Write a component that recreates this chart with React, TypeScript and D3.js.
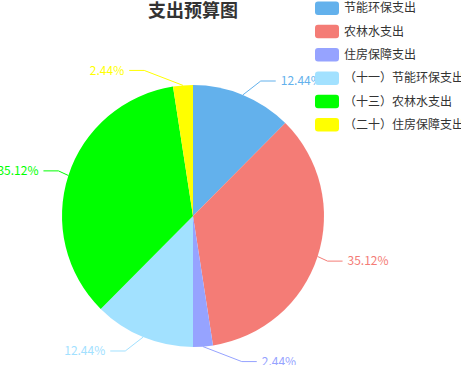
import React from 'react';
import * as d3 from 'd3';

const categories = ['节能环保支出', '农林水支出', '住房保障支出', '（十一）节能环保支出', '（十三）农林水支出', '（二十）住房保障支出'];
const values = [12.44, 35.12, 2.44, 12.44, 35.12, 2.44];
const colors = ['#63b1ec', '#f47c76', '#96a3ff', '#a2e1ff', '#00ff00', '#ffff00'];
const titleText = '支出预算图';

const W = 461, H = 365;
const cx = 193, cy = 216, R = 131;
const len = 15, len2 = 15, dist = 5;
const FONT = "'Noto Sans CJK SC', 'Noto Sans', sans-serif";

type Item = { i: number; x1: number; y1: number; x: number; y: number; side: number };

export default function App() {
  const pie = d3.pie<number>().sort(null).value((d) => d);
  const arcs = pie(values);
  const arcGen = d3.arc<d3.PieArcDatum<number>>().innerRadius(0).outerRadius(R);
  const total = d3.sum(values);

  const items: Item[] = arcs.map((a, i) => {
    const mid = (a.startAngle + a.endAngle) / 2;
    const dx = Math.sin(mid), dy = -Math.cos(mid);
    const x1 = cx + R * dx, y1 = cy + R * dy;
    return { i, x1, y1, x: x1 + len * dx, y: y1 + len * dy, side: dx < 0 ? -1 : 1 };
  });

  const changeX = (list: Item[], isDown: boolean, dir: number) => {
    let last = isDown ? Number.MAX_VALUE : 0;
    for (const it of list) {
      const deltaY = Math.abs(it.y - cy);
      let deltaX = deltaY < R + len
        ? Math.sqrt((R + len + len2) ** 2 - deltaY * deltaY)
        : Math.abs(it.x - cx);
      if (isDown && deltaX >= last) deltaX = last - 10;
      if (!isDown && deltaX <= last) deltaX = last + 10;
      it.x = cx + deltaX * dir;
      last = deltaX;
    }
  };
  [-1, 1].forEach((s) => {
    const list = items.filter((it) => it.side === s).sort((a, b) => a.y - b.y);
    changeX(list.filter((it) => it.y < cy), false, s);
    changeX(list.filter((it) => it.y >= cy), true, s);
  });

  const legendX = 315, legendY0 = 1.5, legendStep = 23.3;

  return (
    <svg width={W} height={H} style={{ position: 'absolute', left: 0, top: 0, fontFamily: FONT }}>
      <rect width={W} height={H} fill="#fff" />
      <text x={cx} y={17} textAnchor="middle" fontSize={18} fontWeight="bold" fill="#333">{titleText}</text>
      <g>
        {arcs.map((a, i) => (
          <path key={i} d={arcGen(a) || ''} transform={`translate(${cx},${cy})`} fill={colors[i]} />
        ))}
      </g>
      <g>
        {items.map((it) => {
          const lineEnd = it.x - it.side * dist;
          const bend = lineEnd - it.side * len2;
          const pts: [number, number][] = [[it.x1, it.y1], [bend, it.y], [lineEnd, it.y]];
          return (
            <g key={it.i}>
              <path d={d3.line()(pts) || ''} fill="none" stroke={colors[it.i]} strokeWidth={1} />
              <text x={it.x} y={it.y} dy="0.35em" textAnchor={it.side < 0 ? 'end' : 'start'} fontSize={12} fill={colors[it.i]}>
                {((values[it.i] / total) * 100).toFixed(2) + '%'}
              </text>
            </g>
          );
        })}
      </g>
      <g>
        {categories.map((c, i) => (
          <g key={i} transform={`translate(${legendX},${legendY0 + i * legendStep})`}>
            <rect width={24} height={13.5} rx={3} fill={colors[i]} />
            <text x={29} y={6.75} dy="0.35em" fontSize={12} fill="#333">{c}</text>
          </g>
        ))}
      </g>
    </svg>
  );
}
